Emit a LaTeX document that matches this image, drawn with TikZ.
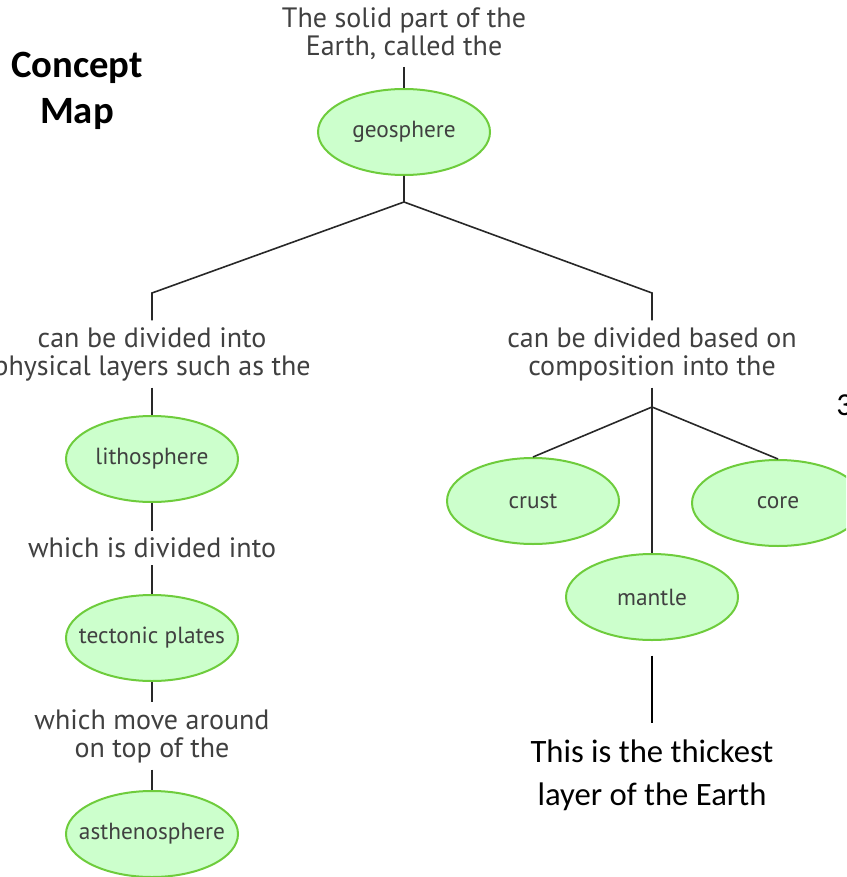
\documentclass[tikz,border=0pt]{standalone}
\usepackage{fontspec}
\usetikzlibrary{shapes.geometric}
\newfontfamily\mapfont{PT Sans}
\newfontfamily\calfont{Carlito}
\definecolor{ovfill}{RGB}{204,255,204}
\definecolor{ovline}{RGB}{110,204,60}
\definecolor{txtgray}{RGB}{64,64,64}
\definecolor{linkgray}{RGB}{40,40,40}
\begin{document}
\begin{tikzpicture}[x=0.75pt,y=-0.75pt,
  oval/.style={ellipse, draw=ovline, line width=1.5pt, fill=ovfill, minimum width=129pt, minimum height=64.5pt, inner xsep=-40pt, inner ysep=0pt, text=txtgray, font=\mapfont\fontsize{17.5pt}{19pt}\selectfont},
  linktext/.style={align=center, inner xsep=0pt, inner ysep=5pt, text=txtgray, font=\mapfont\fontsize{21pt}{21pt}\selectfont},
  link/.style={draw=linkgray, line width=1.2pt},
  ]
\useasboundingbox (0,0) rectangle (846,877);
\clip (0,0) rectangle (846,877);
\node[font=\calfont\bfseries\fontsize{29pt}{34pt}\selectfont, align=center, inner sep=0pt] (title) at (77,91) {Concept\\Map};
\node[linktext] (top) at (404,34) {The solid part of the\\Earth, called the};
\node[oval] (geo) at (404,132) {geosphere};
\coordinate (fork) at (404,202);
\coordinate (lbend) at (152,293);
\coordinate (rbend) at (652,293);
\node[linktext] (ldiv) at (152,354) {can be divided into\\physical layers such as the};
\node[linktext] (rdiv) at (652,354) {can be divided based on\\composition into the};
\node[oval] (litho) at (152,459) {lithosphere};
\node[linktext] (which) at (152,548) {which is divided into};
\node[oval] (tect) at (152,638) {tectonic plates};
\node[linktext] (move) at (152,736) {which move around\\on top of the};
\node[oval] (asth) at (152,834) {asthenosphere};
\coordinate (rfork) at (652,407);
\node[oval] (crust) at (533,501) {crust};
\node[oval] (core) at (778,503) {core};
\node[oval] (mantle) at (652,597) {mantle};
\node[font=\calfont\fontsize{24.5pt}{32pt}\selectfont, align=center, inner sep=0pt] (thick) at (652,775) {This is the thickest\\layer of the Earth};
\node[font=\calfont\fontsize{24pt}{24pt}\selectfont, anchor=base west, inner sep=0pt] (three) at (836,415) {3};
\draw[link] (top) -- (geo);
\draw[link] (geo) -- (fork) -- (lbend) -- (ldiv);
\draw[link] (fork) -- (rbend) -- (rdiv);
\draw[link] (ldiv) -- (litho);
\draw[link] (litho) -- (which);
\draw[link] (which) -- (tect);
\draw[link] (tect) -- (move);
\draw[link] (move) -- (asth);
\draw[link] (rdiv) -- (rfork);
\draw[link] (rfork) -- (crust.north);
\draw[link] (rfork) -- (core.north);
\draw[link] (rfork) -- (mantle.north);
\draw[black, line width=2pt] ([yshift=-11pt]mantle.south) -- ([yshift=12pt]thick.north);
\end{tikzpicture}
\end{document}
